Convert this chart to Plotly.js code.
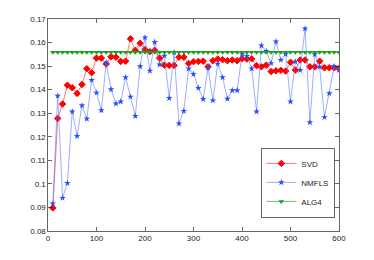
<!DOCTYPE html>
<html><head><meta charset="utf-8">
<script src="https://cdn.plot.ly/plotly-3.0.1.min.js"></script>
<style>html,body{margin:0;padding:0;background:#fff;}#chart{width:374px;height:260px;}</style>
</head><body><div id="chart"></div>
<script>
var xs = [10,20,30,40,50,60,70,80,90,100,110,120,130,140,150,160,170,180,190,200,210,220,230,240,250,260,270,280,290,300,310,320,330,340,350,360,370,380,390,400,410,420,430,440,450,460,470,480,490,500,510,520,530,540,550,560,570,580,590,600];
var svd = [0.0898,0.1278,0.1339,0.1419,0.1408,0.1384,0.1422,0.1489,0.1472,0.1534,0.1534,0.1509,0.1540,0.1538,0.1520,0.1521,0.1616,0.1567,0.1597,0.1570,0.1561,0.1567,0.1534,0.1504,0.1503,0.1503,0.1538,0.1538,0.1511,0.1519,0.1520,0.1521,0.1497,0.1523,0.1530,0.1527,0.1523,0.1526,0.1523,0.1531,0.1530,0.1531,0.1502,0.1497,0.1504,0.1477,0.1480,0.1482,0.1479,0.1516,0.1483,0.1526,0.1526,0.1497,0.1497,0.1521,0.1493,0.1493,0.1493,0.1490];
var nmfls = [0.0916,0.1374,0.0940,0.1003,0.1307,0.1203,0.1333,0.1276,0.1441,0.1387,0.1312,0.1514,0.1401,0.1341,0.1349,0.1452,0.1370,0.1288,0.1499,0.1621,0.1480,0.1602,0.1506,0.1544,0.1364,0.1558,0.1256,0.1309,0.1489,0.1466,0.1407,0.1360,0.1492,0.1354,0.1510,0.1452,0.1361,0.1397,0.1397,0.1550,0.1543,0.1489,0.1307,0.1587,0.1564,0.1512,0.1604,0.1526,0.1551,0.1349,0.1519,0.1483,0.1659,0.1261,0.1550,0.1497,0.1283,0.1384,0.1499,0.1483];
var alg4 = [0.1559,0.1559,0.1559,0.1559,0.1559,0.1559,0.1559,0.1559,0.1559,0.1559,0.1559,0.1559,0.1559,0.1559,0.1559,0.1559,0.1559,0.1559,0.1559,0.1559,0.1559,0.1559,0.1559,0.1559,0.1559,0.1559,0.1559,0.1559,0.1559,0.1559,0.1559,0.1559,0.1559,0.1559,0.1559,0.1559,0.1559,0.1559,0.1559,0.1559,0.1559,0.1559,0.1559,0.1559,0.1559,0.1559,0.1559,0.1559,0.1559,0.1559,0.1559,0.1559,0.1559,0.1559,0.1559,0.1559,0.1559,0.1559,0.1559,0.1559];
var yTickVals = [0.08,0.09,0.1,0.11,0.12,0.13,0.14,0.15,0.16,0.17];
var yTickText = ['0.08','0.09','0.1','0.11','0.12','0.13','0.14','0.15','0.16','0.17'];
var xTickVals = [0,100,200,300,400,500,600];

var traces = [
  {x: xs, y: svd, name: 'SVD', type: 'scatter', mode: 'lines+markers',
   line: {color: 'rgba(255,60,60,0.7)', width: 1},
   marker: {symbol: 'diamond', size: 5, color: '#ff0000', line: {color: '#ff0000', width: 1}}},
  {x: xs, y: nmfls, name: 'NMFLS', type: 'scatter', mode: 'lines+markers',
   line: {color: 'rgba(90,120,255,0.6)', width: 1},
   marker: {symbol: 'star', size: 5, color: '#2a4dff', line: {width: 0}}},
  {x: xs, y: alg4, name: 'ALG4', type: 'scatter', mode: 'lines+markers',
   line: {color: 'rgba(40,170,40,0.7)', width: 1},
   marker: {symbol: 'triangle-down', size: 5, color: '#1aa01a', line: {width: 0}}}
];

var axisCommon = {showgrid: false, zeroline: false, showline: true, linecolor: '#000', linewidth: 0.6,
  mirror: 'allticks', ticks: 'inside', ticklen: 4, tickcolor: '#000', tickwidth: 0.6,
  tickfont: {family: 'Liberation Sans, Arial, sans-serif', size: 8, color: '#222'}};

var layout = {
  width: 374, height: 260,
  margin: {l: 48, r: 35, t: 19, b: 29},
  paper_bgcolor: '#fff', plot_bgcolor: '#fff',
  showlegend: true,
  xaxis: Object.assign({}, axisCommon, {range: [0, 600], tickvals: xTickVals}),
  yaxis: Object.assign({}, axisCommon, {range: [0.08, 0.17], tickvals: yTickVals, ticktext: yTickText}),
  legend: {x: 0.731, y: 0.39, xanchor: 'left', yanchor: 'top', bgcolor: '#fff', bordercolor: '#000', borderwidth: 0.6,
    font: {family: 'Liberation Sans, Arial, sans-serif', size: 8, color: '#222'}, tracegroupgap: 0, itemwidth: 30}
};
Plotly.newPlot('chart', traces, layout, {staticPlot: true, displayModeBar: false});
</script></body></html>
